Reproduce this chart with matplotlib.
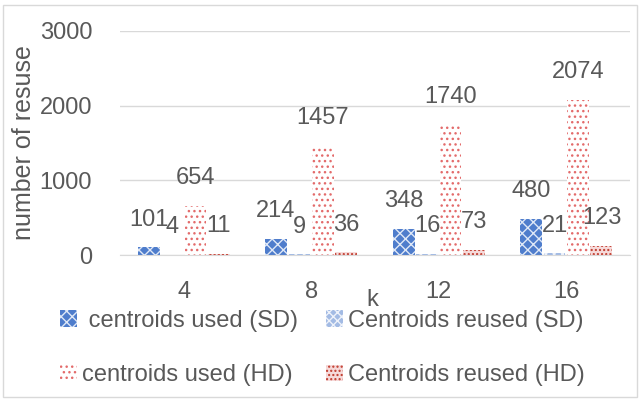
import numpy as np
import matplotlib
matplotlib.use('Agg')
import matplotlib.pyplot as plt
from matplotlib.patches import Rectangle, Patch

plt.rcParams['font.family'] = ['Liberation Sans', 'DejaVu Sans']
plt.rcParams['hatch.linewidth'] = 1.0
txt = '#595959'

k = ['4', '8', '12', '16']
sd_used = [101, 214, 348, 480]
sd_reused = [4, 9, 16, 21]
hd_used = [654, 1457, 1740, 2074]
hd_reused = [11, 36, 73, 123]
labels = [' centroids used (SD)', 'Centroids reused (SD)',
          'centroids used (HD)', 'Centroids reused (HD)']

fig = plt.figure(figsize=(6.41, 4.0), dpi=100)
ax = fig.add_axes([120/641, 145/400, 510/641, 224/400])

x = np.arange(len(k))
w = 0.172
step = 0.184
styles = [dict(facecolor='#4f7dcc', edgecolor='#dfe8f7', hatch='xxx'),
          dict(facecolor='#a3bbe4', edgecolor='#eef2fa', hatch='xxxx'),
          dict(facecolor='white', edgecolor='#e36b6b', hatch='...'),
          dict(facecolor='#f6dada', edgecolor='#c0392b', hatch='....')]
series = [sd_used, sd_reused, hd_used, hd_reused]
for i, (vals, st) in enumerate(zip(series, styles)):
    pos = x + (i - 1.5) * step
    ax.bar(pos, vals, w, linewidth=0, zorder=2, **st)
    for p, v in zip(pos, vals):
        ax.annotate(str(v), (p, v), xytext=(0, 20), textcoords='offset points',
                    ha='center', va='center', fontsize=17, color=txt, zorder=3)

ax.set_xlim(-0.5, 3.5)
ax.set_ylim(0, 3000)
ax.set_yticks([0, 1000, 2000, 3000])
ax.set_xticks(x)
ax.set_xticklabels(k)
ax.grid(axis='y', color='#d9d9d9', linewidth=1, zorder=0)
ax.set_axisbelow(True)
for s in ['top', 'right', 'left']:
    ax.spines[s].set_visible(False)
ax.spines['bottom'].set_color('#d9d9d9')
ax.tick_params(axis='both', length=0, labelsize=17, labelcolor=txt)
ax.tick_params(axis='y', pad=20)
ax.tick_params(axis='x', pad=19)

fig.text(24/641, 1-143/400, 'number of resuse', rotation=90, ha='center',
         va='center', fontsize=18, color=txt)
fig.text(372/641, 1-300/400, 'k', ha='center', va='center', fontsize=17, color=txt)

# legend fills column by column, so order SD used, HD used, SD reused, HD reused
order = [0, 2, 1, 3]
handles = [Patch(linewidth=0, **styles[i]) for i in order]
fig.legend(handles, [labels[i] for i in order], ncol=2, loc='upper left',
           bbox_to_anchor=(48/641, 1-298/400), frameon=False, fontsize=17,
           labelcolor=txt, handlelength=0.72, handleheight=0.7,
           handletextpad=0.2, columnspacing=1.2, labelspacing=1.38, borderpad=0)

fig.add_artist(Rectangle((3/641, 3/400), 634/641, 392/400, transform=fig.transFigure,
                         fill=False, edgecolor='#d9d9d9', linewidth=1))

fig.savefig('out.png', dpi=100)
